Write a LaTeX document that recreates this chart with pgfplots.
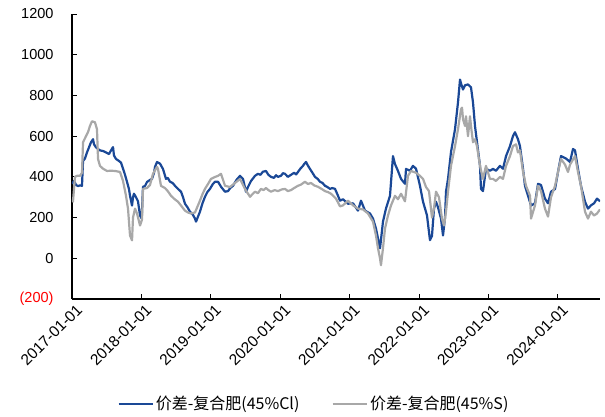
\documentclass[border=0pt]{standalone}
\usepackage{pgfplots}
\pgfplotsset{compat=1.18}
\usepackage{fontspec}
\setmainfont{Liberation Sans}
\newfontfamily\cjk{Noto Sans CJK SC}
\definecolor{clblue}{RGB}{26,72,150}
\definecolor{sgrey}{RGB}{168,168,168}
\begin{document}
\begin{tikzpicture}
\begin{axis}[name=ax, scale only axis, width=528pt, height=285pt,
  xmin=2017, xmax=2024.608, ymin=-200, ymax=1200,
  axis x line=bottom, axis y line=left,
  axis line style={-, line width=1.1pt, black},
  ytick={-200,0,200,400,600,800,1000,1200},
  yticklabels={\textcolor{red}{(200)},0,200,400,600,800,1000,1200},
  xtick={2017,2018,2019,2020,2021,2022,2023,2024},
  xticklabels={2017-01-01,2018-01-01,2019-01-01,2020-01-01,2021-01-01,2022-01-01,2023-01-01,2024-01-01},
  tick align=inside, major tick length=5pt,
  tick style={black, line width=0.9pt},
  yticklabel style={font=\fontsize{14.5}{17}\selectfont, xshift=-15pt},
  xticklabel style={font=\fontsize{15.5}{18}\selectfont, rotate=45, anchor=east, yshift=-11pt, xshift=3pt},
  legend style={at={(0.458,-0.368)}, anchor=center, draw=none, fill=none,
    font=\cjk\fontsize{16}{19}\selectfont,
    /tikz/every even column/.append style={column sep=30pt}},
  legend columns=2,
  legend image code/.code={\draw[#1, line width=2.6pt] (0pt,0pt) -- (34pt,0pt);},
]
\addplot[clblue, line width=2.2pt, line join=round] coordinates {
(2017.000,366)(2017.029,380)(2017.058,360)(2017.086,355)(2017.115,358)(2017.144,356)
(2017.159,478)(2017.187,490)(2017.216,520)(2017.245,545)(2017.274,570)(2017.303,585)
(2017.317,560)(2017.346,545)(2017.375,537)(2017.403,530)(2017.447,527)(2017.490,520)
(2017.533,512)(2017.562,530)(2017.591,546)(2017.605,505)(2017.634,488)(2017.677,478)
(2017.706,470)(2017.735,440)(2017.764,410)(2017.793,375)(2017.821,340)(2017.836,307)
(2017.865,259)(2017.879,300)(2017.893,317)(2017.922,300)(2017.951,280)(2017.980,210)
(2018.004,195)(2018.023,351)(2018.052,355)(2018.081,375)(2018.124,385)(2018.153,390)
(2018.182,420)(2018.196,449)(2018.225,473)(2018.268,465)(2018.311,439)(2018.354,390)
(2018.380,395)(2018.412,376)(2018.450,370)(2018.484,356)(2018.527,341)(2018.571,327)
(2018.600,300)(2018.628,268)(2018.665,250)(2018.700,229)(2018.740,215)
(2018.772,195)(2018.787,180)(2018.844,229)(2018.880,270)(2018.916,302)(2018.950,325)
(2018.988,341)(2019.030,365)(2019.061,376)
(2019.104,376)(2019.150,350)(2019.205,327)(2019.248,330)(2019.280,345)(2019.320,356)
(2019.370,385)(2019.421,405)(2019.464,390)
(2019.507,327)(2019.536,350)(2019.580,380)(2019.637,405)(2019.680,415)(2019.715,410)
(2019.750,425)(2019.795,429)(2019.830,410)(2019.867,400)(2019.910,395)(2019.940,408)
(2019.968,400)(2020.010,405)(2020.040,418)(2020.069,415)(2020.110,400)(2020.156,410)
(2020.200,420)(2020.230,412)(2020.256,424)(2020.290,440)(2020.328,454)(2020.350,465)
(2020.372,473)(2020.400,455)(2020.429,439)(2020.465,420)(2020.501,400)(2020.540,390)
(2020.573,376)(2020.610,370)(2020.645,356)(2020.680,350)(2020.718,341)(2020.750,345)
(2020.790,341)(2020.833,307)
(2020.862,283)(2020.905,290)(2020.977,268)(2021.049,270)(2021.121,234)(2021.164,283)
(2021.222,234)(2021.294,220)(2021.337,195)(2021.380,146)(2021.409,98)(2021.438,49)
(2021.452,90)(2021.481,180)(2021.524,244)(2021.582,307)(2021.625,502)(2021.654,463)
(2021.697,429)(2021.741,390)(2021.798,366)(2021.813,439)(2021.870,430)(2021.913,454)
(2021.957,440)(2022.014,356)(2022.058,278)(2022.115,211)(2022.158,89)(2022.187,110)
(2022.216,244)(2022.245,278)(2022.274,250)(2022.317,195)(2022.346,112)(2022.375,200)
(2022.389,327)(2022.418,390)(2022.461,522)(2022.519,634)(2022.562,766)(2022.591,878)
(2022.605,860)(2022.634,829)(2022.663,850)(2022.706,854)(2022.749,840)(2022.778,766)
(2022.807,650)(2022.836,570)(2022.879,454)(2022.893,341)(2022.922,330)(2022.965,439)
(2023.023,430)(2023.066,439)(2023.109,430)(2023.167,454)(2023.210,440)(2023.254,502)
(2023.311,551)(2023.354,600)(2023.383,619)(2023.426,585)(2023.455,551)(2023.499,439)
(2023.527,356)(2023.571,307)(2023.614,259)(2023.671,270)(2023.715,366)(2023.758,360)
(2023.815,293)(2023.859,270)(2023.902,327)(2023.960,340)(2024.003,424)(2024.046,502)
(2024.118,490)(2024.176,473)(2024.219,537)(2024.248,530)(2024.291,439)(2024.334,356)
(2024.392,278)(2024.435,244)(2024.478,260)(2024.522,270)(2024.565,293)(2024.608,280)
};
\addlegendentry{价差-复合肥(45\%Cl)}
\addplot[sgrey, line width=2.2pt, line join=round] coordinates {
(2017.000,293)(2017.014,278)(2017.043,400)(2017.072,405)(2017.115,405)(2017.144,420)
(2017.159,570)(2017.202,600)(2017.231,620)(2017.259,650)(2017.288,673)(2017.331,668)
(2017.360,634)(2017.375,488)(2017.403,454)(2017.447,440)(2017.504,429)(2017.562,430)
(2017.620,429)(2017.692,424)(2017.735,380)(2017.778,307)(2017.807,244)(2017.836,112)
(2017.865,88)(2017.879,200)(2017.908,244)(2017.937,220)(2017.980,161)(2018.009,190)
(2018.023,341)(2018.081,345)(2018.124,360)(2018.167,415)(2018.225,449)(2018.239,439)
(2018.282,356)(2018.340,345)(2018.380,330)(2018.427,307)(2018.480,290)(2018.527,278)
(2018.580,255)(2018.628,234)(2018.670,225)(2018.715,220)
(2018.772,225)(2018.844,283)(2018.880,315)(2018.916,341)(2018.960,365)(2019.003,390)
(2019.050,398)(2019.104,405)(2019.147,415)
(2019.205,356)(2019.277,350)(2019.349,370)(2019.421,390)(2019.493,340)
(2019.565,302)(2019.600,315)(2019.637,327)(2019.680,320)(2019.723,341)(2019.760,335)
(2019.795,345)(2019.830,335)(2019.867,327)(2019.920,335)(2019.968,330)(2020.020,338)
(2020.069,341)(2020.110,330)(2020.156,335)(2020.200,345)(2020.256,356)(2020.300,362)
(2020.357,376)(2020.400,365)(2020.444,370)(2020.490,358)(2020.545,351)(2020.600,340)
(2020.645,330)(2020.690,325)(2020.732,317)(2020.770,305)(2020.804,293)
(2020.862,255)(2020.905,260)(2020.977,283)(2021.049,260)
(2021.121,244)(2021.193,240)(2021.265,220)(2021.337,180)(2021.380,112)(2021.409,49)
(2021.438,0)(2021.452,-34)(2021.481,49)(2021.510,146)(2021.553,210)(2021.596,259)
(2021.654,307)(2021.697,290)(2021.741,317)(2021.798,280)(2021.841,405)(2021.885,429)
(2021.957,420)(2022.014,405)(2022.058,390)(2022.101,350)(2022.144,330)(2022.187,200)
(2022.216,244)(2022.245,327)(2022.288,300)(2022.331,195)(2022.360,161)(2022.389,229)
(2022.418,327)(2022.461,454)(2022.519,551)(2022.562,634)(2022.605,732)(2022.620,740)
(2022.634,683)(2022.663,650)(2022.677,698)(2022.706,600)(2022.735,698)(2022.749,650)
(2022.778,570)(2022.807,585)(2022.836,550)(2022.879,454)(2022.922,390)(2022.965,454)
(2023.023,390)(2023.066,390)(2023.109,380)(2023.167,400)(2023.210,390)(2023.254,454)
(2023.311,502)(2023.354,551)(2023.398,560)(2023.426,520)(2023.455,530)(2023.499,424)
(2023.542,356)(2023.600,307)(2023.614,195)(2023.671,259)(2023.715,356)(2023.758,330)
(2023.815,244)(2023.859,205)(2023.902,300)(2023.960,356)(2024.003,424)(2024.046,488)
(2024.104,460)(2024.147,424)(2024.176,460)(2024.248,502)(2024.291,424)(2024.334,356)
(2024.392,229)(2024.435,195)(2024.478,229)(2024.522,210)(2024.565,220)(2024.608,240)
};
\addlegendentry{价差-复合肥(45\%S)}
\end{axis}
\pgfresetboundingbox
\path ([shift={(-72pt,-118pt)}]ax.south west) rectangle ([shift={(5pt,14pt)}]ax.north east);
\end{tikzpicture}
\end{document}
